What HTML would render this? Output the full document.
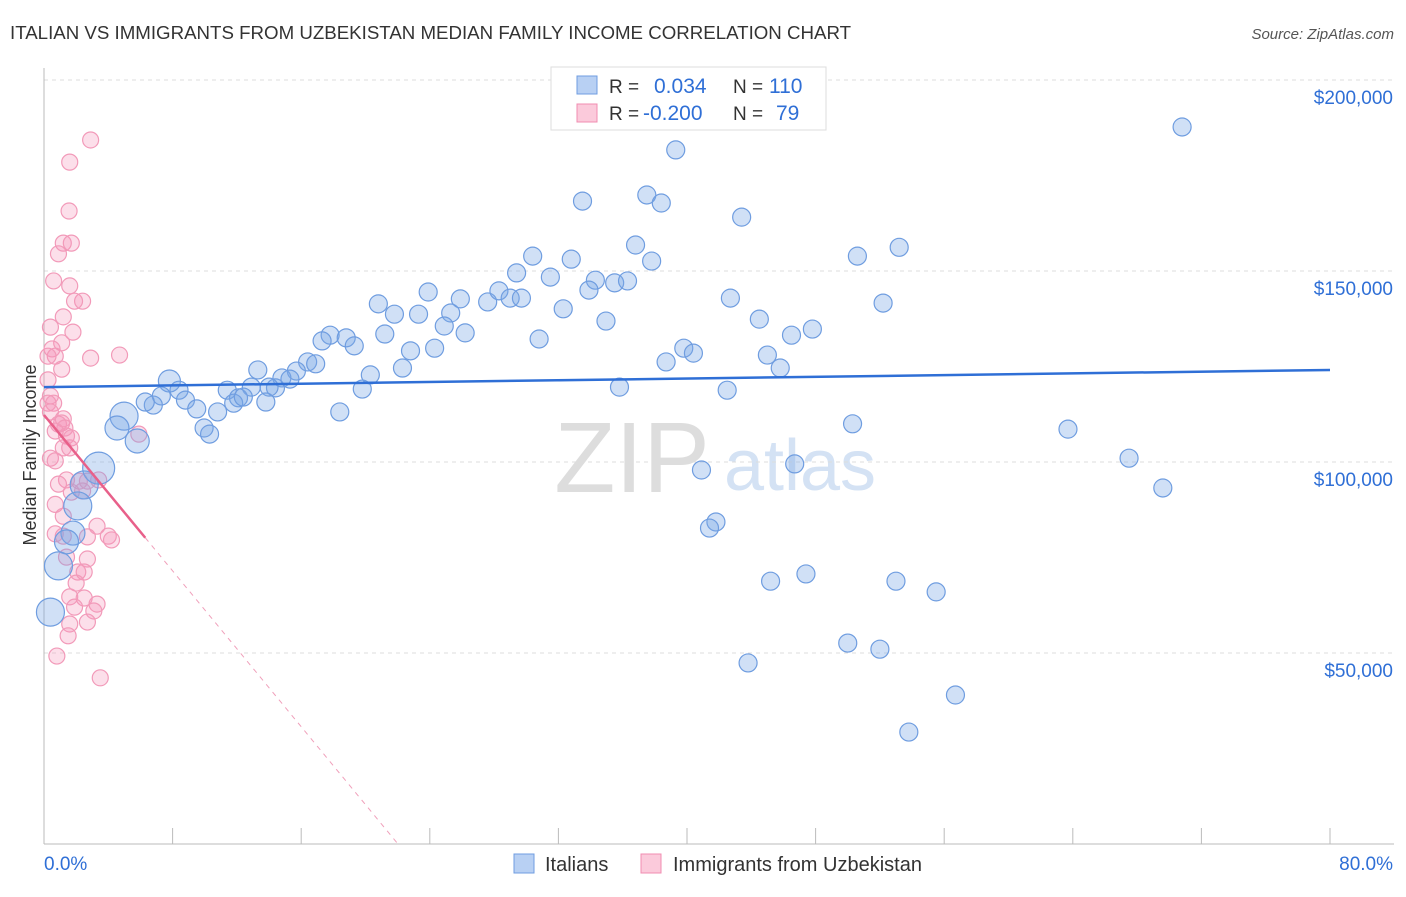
<!DOCTYPE html>
<html><head><meta charset="utf-8"><style>
body{margin:0;background:#fff;font-family:"Liberation Sans",sans-serif}
svg text{font-family:"Liberation Sans",sans-serif}
</style></head><body>
<svg id="c" width="1406" height="892">
<text x="10" y="39" font-size="18.7" fill="#333">ITALIAN VS IMMIGRANTS FROM UZBEKISTAN MEDIAN FAMILY INCOME CORRELATION CHART</text>
<text x="1394" y="39" font-size="15" fill="#555" text-anchor="end" font-style="italic">Source: ZipAtlas.com</text>
<text x="36" y="455" font-size="18" fill="#333" text-anchor="middle" transform="rotate(-90 36 455)">Median Family Income</text>
<g><text x="632" y="492" font-size="100" fill="#ddd" text-anchor="middle" font-family="Liberation Serif">ZIP</text><text x="800" y="490" font-size="72" fill="#d4e2f4" text-anchor="middle">atlas</text></g>
<g id="grid"></g><g id="pts"></g><g id="lines"></g>
<g>
<rect x="551" y="67" width="275" height="63" fill="#fff" stroke="#ddd"/>
<rect x="577" y="76" width="20" height="18" fill="#b8d0f3" stroke="#6f9de0"/>
<rect x="577" y="104" width="20" height="18" fill="#fbcadb" stroke="#f08cb0"/>
<text x="609" y="93" font-size="19" fill="#333">R =</text><text x="654" y="93" font-size="21" fill="#2f6fd6">0.034</text>
<text x="733" y="93" font-size="19" fill="#333">N =</text><text x="769" y="93" font-size="21" fill="#2f6fd6">110</text>
<text x="609" y="120" font-size="19" fill="#333">R =</text><text x="643" y="120" font-size="21" fill="#2f6fd6">-0.200</text>
<text x="733" y="120" font-size="19" fill="#333">N =</text><text x="776" y="120" font-size="21" fill="#2f6fd6">79</text>
</g>
<g>
<rect x="514" y="854" width="20" height="19" fill="#b8d0f3" stroke="#6f9de0"/><text x="545" y="871" font-size="20" fill="#333">Italians</text>
<rect x="641" y="854" width="20" height="19" fill="#fbcadb" stroke="#f08cb0"/><text x="673" y="871" font-size="20" fill="#333">Immigrants from Uzbekistan</text>
</g>
</svg>
<script>
const yTicks=[50000,100000,150000,200000];
const yTickLabels=["$50,000","$100,000","$150,000","$200,000"];
const blueX=[70.8,39.3,33.5,37.5,38.4,43.4,36.8,32.8,37.8,30.4,50.6,53.2,29.4,31.5,34.3,35.5,36.3,33.9,23.9,25.9,27.6,28.3,29.0,29.7,20.8,21.8,23.3,25.3,24.9,26.2,32.3,34.96,42.7,52.2,44.5,47.8,46.5,17.8,18.8,17.3,19.3,21.2,24.3,22.8,30.8,39.8,40.4,45.0,38.7,45.8,16.4,16.9,22.3,20.3,15.7,14.8,15.3,13.3,14.4,12.9,14.0,11.4,12.1,11.8,12.4,13.8,19.8,35.8,42.5,7.8,8.4,8.8,7.3,6.8,6.3,9.5,10.8,9.96,10.3,18.4,50.3,63.7,4.98,4.54,5.8,3.4,2.5,2.1,1.8,1.4,0.9,0.4,67.5,69.6,46.7,40.9,41.8,41.4,45.2,47.4,53.0,55.5,50.0,52.0,43.8,56.7,53.8];
const blueY=[187.7,181.7,168.3,169.9,167.8,164.1,156.8,153.1,152.6,153.9,153.9,156.2,149.5,148.4,147.6,146.9,147.4,145.0,144.5,142.7,141.9,144.8,142.9,142.9,141.4,138.7,138.7,139.0,135.6,133.8,140.1,136.9,142.9,141.6,137.4,134.8,133.2,133.2,132.5,131.7,130.4,133.5,129.8,129.1,132.2,129.8,128.5,128.0,126.2,124.6,126.2,125.7,124.6,122.8,123.8,122.0,121.7,124.1,119.4,119.6,119.6,118.8,116.8,115.4,117.0,115.7,119.1,119.6,118.8,121.2,118.8,116.2,117.3,114.9,115.7,113.9,113.1,108.9,107.3,113.1,110.0,108.6,112.0,108.9,105.5,98.4,94.0,88.5,81.4,79.1,72.8,60.7,101.0,93.2,99.5,97.9,84.3,82.7,68.8,70.7,68.8,66.0,52.6,51.0,47.4,39.0,29.3];
const blueSize=[0,0,0,0,0,0,0,0,0,0,0,0,0,0,0,0,0,0,0,0,0,0,0,0,0,0,0,0,0,0,0,0,0,0,0,0,0,0,0,0,0,0,0,0,0,0,0,0,0,0,0,0,0,0,0,0,0,0,0,0,0,0,0,0,0,0,0,0,0,2,0,0,0,0,0,0,0,0,0,0,0,0,5,3,3,7,5,5,3,3,5,5,0,0,0,0,0,0,0,0,0,0,0,0,0,0,0];
const pinkX=[2.9,1.6,1.56,1.2,1.7,0.9,0.6,1.6,2.4,1.9,1.2,0.4,1.8,1.1,0.5,0.7,0.25,2.9,4.7,1.1,0.25,0.4,0.25,0.6,0.4,1.2,0.9,1.1,1.3,0.7,1.4,1.7,5.9,1.2,1.6,0.4,0.7,1.4,0.9,2.2,2.7,3.4,1.7,2.4,0.7,1.2,3.3,0.7,1.2,2.7,4.0,4.2,1.4,2.7,2.1,2.5,2.0,1.6,2.5,1.9,3.3,3.1,2.7,1.6,1.5,0.8,3.5];
const pinkY=[184.3,178.5,165.7,157.3,157.3,154.5,147.4,146.1,142.1,142.1,138.0,135.3,134.0,131.2,129.6,127.7,127.7,127.2,128.0,124.3,121.5,117.3,115.4,115.4,113.1,111.3,109.9,110.2,108.9,108.1,106.8,106.3,107.3,103.7,103.7,101.0,100.3,95.3,94.2,95.0,95.0,95.3,92.1,92.4,88.9,85.8,83.2,81.2,80.6,80.4,80.6,79.6,75.1,74.6,71.2,71.2,68.3,64.7,64.4,62.0,62.8,61.0,58.1,57.6,54.5,49.2,43.5];
const blueTrend=[119.6,124.1];
const pinkTrend=[112.3,5.1];
const NS="http://www.w3.org/2000/svg";
const X=v=>44+v*16.075, Y=v=>844-v*3.82;
function mk(t,a,p){const e=document.createElementNS(NS,t);for(const k in a)e.setAttribute(k,a[k]);p.appendChild(e);return e;}
const g=document.getElementById('grid');
yTicks.forEach((t,i)=>{const l=mk('line',{x1:44,x2:1394,y1:Y(t/1000),y2:Y(t/1000),stroke:'#ddd','stroke-dasharray':'4 4'},g);


const tx=mk('text',{x:1393,y:Y(t/1000)+24,'font-size':19,fill:'#2f6fd6','text-anchor':'end'},g);tx.textContent=yTickLabels[i];

});
mk('line',{x1:44,x2:44,y1:68,y2:844,stroke:'#bbb'},g);
mk('line',{x1:44,x2:1394,y1:844,y2:844,stroke:'#bbb'},g);
for(let i=0;i<=10;i++){const t=mk('line',{x1:X(i*8),x2:X(i*8),y1:828,y2:844,stroke:'#bbb'},g);

}
const a=mk('text',{x:44,y:870,'font-size':19,fill:'#2f6fd6'},g);a.textContent='0.0%';


const b=mk('text',{x:1393,y:870,'font-size':19,fill:'#2f6fd6','text-anchor':'end'},g);b.textContent='80.0%';


const p=document.getElementById('pts');
pinkX.forEach((x,i)=>{const c=mk('circle',{cx:X(x),cy:Y(pinkY[i]),r:8,fill:'rgba(245,150,185,0.3)',stroke:'#f29ab9','stroke-width':1.2},p);

});
blueX.forEach((x,i)=>{const c=mk('circle',{cx:X(x),cy:Y(blueY[i]),r:9+blueSize[i],fill:'rgba(120,165,230,0.35)',stroke:'#6f9de0','stroke-width':1.2},p);

});
const L=document.getElementById('lines');
const bl=mk('line',{x1:X(0),y1:Y(blueTrend[0]),x2:X(80),y2:Y(blueTrend[1]),stroke:'#2f6fd6','stroke-width':2.5},L);


const pe=pinkTrend[0]/pinkTrend[1];
const pl=mk('line',{x1:X(0),y1:Y(pinkTrend[0]),x2:X(6.3),y2:Y(pinkTrend[0]-pinkTrend[1]*6.3),stroke:'#e8608a','stroke-width':2.5},L);


const pd=mk('line',{x1:X(6.3),y1:Y(pinkTrend[0]-pinkTrend[1]*6.3),x2:X(pe),y2:Y(0),stroke:'#f0a0bb','stroke-width':1,'stroke-dasharray':'5 5'},L);


</script>
</body></html>
